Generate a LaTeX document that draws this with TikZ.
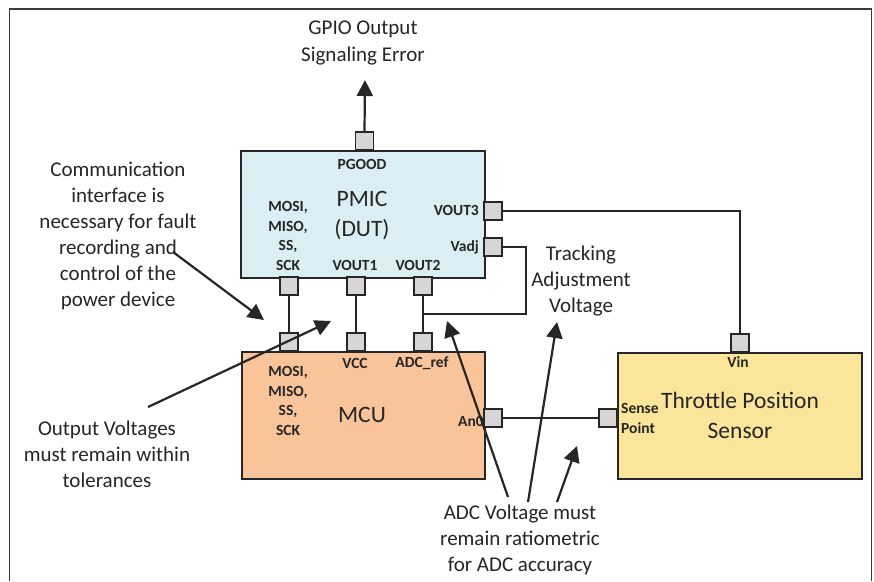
\documentclass[tikz,border=0pt]{standalone}
\usepackage{fontspec}
\setmainfont{Carlito}
\usetikzlibrary{arrows.meta}
\definecolor{pmicfill}{HTML}{DAEEF3}
\definecolor{mcufill}{HTML}{F9C49A}
\definecolor{tpsfill}{HTML}{FBE59A}
\definecolor{pinfill}{HTML}{D6D6D6}
\definecolor{ink}{HTML}{262626}
\definecolor{framec}{HTML}{3A3A3A}
\begin{document}
\begin{tikzpicture}[x=1pt,y=-1pt,
  box/.style={draw=ink, line width=2.4pt, inner sep=0, anchor=north west},
  pin/.style={draw=ink, fill=pinfill, line width=1.6pt, minimum width=18pt, minimum height=18pt, inner sep=0},
  wire/.style={draw=ink, line width=2pt},
  note/.style={text=ink, font=\fontsize{21}{26}\selectfont, align=center, inner sep=0},
  pinlab/.style={text=ink, font=\fontsize{15.5}{19.5}\selectfont\bfseries, align=center, inner sep=0},
  big/.style={text=ink, font=\fontsize{23.5}{30}\selectfont, align=center, inner sep=0},
  callout/.style={draw=ink, line width=2.2pt, -{Triangle[length=16pt,width=16pt]}}
]
\useasboundingbox (0,0) rectangle (874,581);
\fill[white] (0,0) rectangle (874,581);
\draw[framec, line width=1.6pt] (9.5,581) -- (9.5,9) -- (871.5,9) -- (871.5,581);

% boxes
\node[box, fill=pmicfill, minimum width=244pt, minimum height=127pt] (pmic) at (240,150) {};
\node[box, fill=mcufill, minimum width=243pt, minimum height=127pt] (mcu) at (241,351) {};
\node[box, fill=tpsfill, minimum width=244pt, minimum height=126pt] (tps) at (617,352) {};

% pins
\node[pin] (ppg) at (364.5,141) {};
\node[pin] (pb1) at (289,286) {};
\node[pin] (pb2) at (356,286) {};
\node[pin] (pb3) at (423,286) {};
\node[pin] (mt1) at (289,342) {};
\node[pin] (mt2) at (356,342) {};
\node[pin] (mt3) at (423,342) {};
\node[pin] (pv3) at (493,211) {};
\node[pin] (pvadj) at (493,247) {};
\node[pin] (pan0) at (493,418) {};
\node[pin] (pvin) at (740,343) {};
\node[pin] (psense) at (608,418) {};

% wires
\draw[wire] (pb1.south) -- (mt1.north);
\draw[wire] (pb2.south) -- (mt2.north);
\draw[wire] (pb3.south) -- (mt3.north);
\draw[wire] (pv3.east) -| (pvin.north);
\coordinate (vc) at (526,314);
\coordinate (vj) at (423,314);
\draw[wire] (pvadj.east) -| (vc) -- (vj);
\draw[wire] (pan0.east) -- (psense.west);

% box labels
\node[big] (pmiclab) at (362,215) {PMIC\\(DUT)};
\node[big] (mculab) at (362,415) {MCU};
\node[big] (tpslab) at (740,415) {Throttle Position\\Sensor};

% pin labels
\node[pinlab] (lpg) at (362,164) {PGOOD};
\node[pinlab] (lspi1) at (288,236) {MOSI,\\MISO,\\SS,\\SCK};
\node[pinlab] (lvo1) at (355,265) {VOUT1};
\node[pinlab] (lvo2) at (418,265) {VOUT2};
\node[pinlab, anchor=east] (lvo3) at (479,210) {VOUT3};
\node[pinlab, anchor=east] (lvadj) at (479,247) {Vadj};
\node[pinlab] (lspi2) at (288,401) {MOSI,\\MISO,\\SS,\\SCK};
\node[pinlab] (lvcc) at (355,363) {VCC};
\node[pinlab] (ladc) at (422,363) {ADC\_ref};
\node[pinlab, anchor=east] (lan0) at (484,421) {An0};
\node[pinlab] (lvin) at (738,362) {Vin};
\node[pinlab, align=left, anchor=west] (lsense) at (621,418.5) {Sense\\Point};

% notes
\node[note, font=\fontsize{21}{27}\selectfont] (gpio) at (363,43) {GPIO Output\\Signaling Error};
\node[note] (comm) at (118,236) {Communication\\interface is\\necessary for fault\\recording and\\control of the\\power device};
\node[note] (outv) at (107,454) {Output Voltages\\must remain within\\tolerances};
\node[note] (track) at (581,281) {Tracking\\Adjustment\\Voltage};
\node[note] (adc) at (520,540) {ADC Voltage must\\remain ratiometric\\for ADC accuracy};

% callout arrows
\coordinate (gtip) at (365,80);
\draw[callout] (ppg.north) -- (gtip);
\coordinate (c1s) at (173,252);
\coordinate (c1t) at (264,320);
\draw[callout] (c1s) -- (c1t);
\coordinate (c2s) at (148,407);
\coordinate (c2t) at (331,321);
\draw[callout] (c2s) -- (c2t);
\coordinate (a1s) at (508,497);
\coordinate (a1t) at (447,321);
\draw[callout] (a1s) -- (a1t);
\coordinate (a2s) at (528,502);
\coordinate (a2t) at (557,322);
\draw[callout] (a2s) -- (a2t);
\coordinate (a3s) at (557,502);
\coordinate (a3t) at (577,446);
\draw[callout] (a3s) -- (a3t);
\end{tikzpicture}
\end{document}
